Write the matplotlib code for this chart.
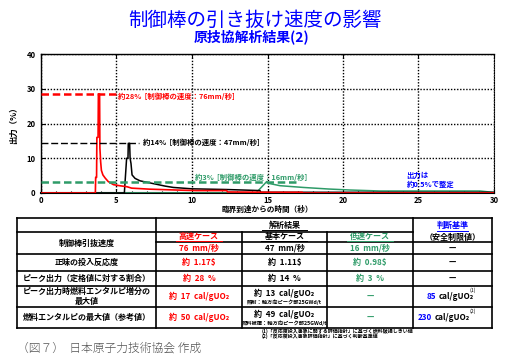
import matplotlib
matplotlib.use('Agg')
import matplotlib.pyplot as plt

plt.rcParams['font.family'] = ['Noto Sans CJK JP', 'DejaVu Sans']

RED = '#ff0000'
GREEN = '#2e9b68'
BLUE = '#0000ff'

# power curves (time after criticality [s], power [% of rated])
t_fast = [0, 3.60, 3.62, 3.68, 3.70, 3.78, 3.80, 3.88, 3.90, 3.95, 4.0, 4.1, 4.25,
          4.45, 4.8, 5.2, 5.7, 6.0, 7.2, 9.0, 10.3, 12.3, 12.35, 15.3, 17.3, 17.35, 30]
p_fast = [0, 0, 4.5, 4.5, 16, 16, 28.5, 28.5, 13, 9, 6.5, 5.2, 4.3,
          3.3, 2.4, 2.1, 1.8, 1.4, 1.1, 0.85, 0.7, 0.7, 0.3, 0.2, 0.2, 0, 0]

t_base = [0, 5.52, 5.67, 5.76, 5.78, 5.87, 5.90, 5.96, 6.03, 6.23, 6.56, 7.0,
          7.66, 8.2, 8.76, 10.0, 12.3, 14.5, 14.55, 30]
p_base = [0, 0, 10, 10, 14.3, 14.3, 10, 8.5, 5.2, 4.2, 3.5, 3.1,
          2.5, 2.0, 1.6, 1.2, 1.0, 0.7, 0.2, 0.2]

t_slow = [0, 14.24, 14.95, 15.05, 15.83, 17.37, 19.03, 20.46, 22.45, 29.07, 29.9, 30]
p_slow = [0, 0, 3.3, 2.8, 2.1, 1.6, 1.15, 0.86, 0.58, 0.58, 0.2, 0.2]

peak_levels = [28.5, 14.3, 3.25]
peak_labels = ['約28%  [制御棒の速度：76mm/秒]',
               '約14%  [制御棒の速度：47mm/秒]',
               '約3%  [制御棒の速度：16mm/秒]']

x_ticks = [0, 5, 10, 15, 20, 25, 30]
y_ticks = [0, 10, 20, 30, 40]

# table contents
col_heads = ['高速ケース', '基本ケース', '低速ケース']
speeds = ['76  mm/秒', '47  mm/秒', '16  mm/秒']
row_labels = ['正味の投入反応度', 'ピーク出力（定格値に対する割合）',
              'ピーク出力時燃料エンタルピ増分の\n最大値', '燃料エンタルピの最大値（参考値）']
reactivity = ['約  1.17$', '約  1.11$', '約  0.98$']
peak_power = ['約  28  %', '約  14  %', '約  3  %']
enthalpy_inc = ['約  17  cal/gUO₂', '約  13  cal/gUO₂', '—']
enthalpy_max = ['約  50  cal/gUO₂', '約  49  cal/gUO₂', '—']
limit_vals = ['85', '230']

fig = plt.figure(figsize=(5.10, 3.61), dpi=100)
ax = fig.add_axes([41 / 510, 1 - 193 / 361, 453 / 510, 139 / 361])

ax.plot(t_slow, p_slow, color=GREEN, lw=1.1, zorder=3)
ax.plot(t_base, p_base, color='black', lw=1.1, zorder=4)
ax.plot(t_fast, p_fast, color=RED, lw=1.2, zorder=5)

# peak reference lines
ax.plot([0, 5.0], [peak_levels[0]] * 2, color=RED, lw=1.8, ls=(0, (3, 1.5)), zorder=6)
ax.text(5.1, peak_levels[0] - 0.6, peak_labels[0], color=RED, fontsize=5.3,
        fontweight='bold', va='center')
ax.plot([0, 6.5], [peak_levels[1]] * 2, color='black', lw=1.0, ls=(0, (5, 2)), zorder=6)
ax.text(6.75, peak_levels[1] + 0.2, peak_labels[1], color='black', fontsize=5.3,
        fontweight='bold', va='center')
ax.plot([0, 16.9], [peak_levels[2]] * 2, color=GREEN, lw=1.8, ls=(0, (3, 1.5)), zorder=6)
ax.text(10.2, peak_levels[2] + 1.4, peak_labels[2], color=GREEN, fontsize=5.3,
        fontweight='bold', va='center')
ax.text(24.2, 3.8, '出力は\n約0.5%で整定', color=BLUE, fontsize=5.3,
        fontweight='bold', va='center', linespacing=1.3)

ax.set_xlim(0, 30)
ax.set_ylim(0, 40)
ax.set_xticks(x_ticks)
ax.set_yticks(y_ticks)
ax.set_xticks(range(0, 31), minor=True)
ax.set_xticklabels([str(v) for v in x_ticks], fontsize=5.5, fontweight='bold')
ax.set_yticklabels([str(v) for v in y_ticks], fontsize=5.5, fontweight='bold')
ax.tick_params(axis='both', which='both', direction='in', top=True, length=3, width=0.8)
ax.tick_params(axis='x', which='major', pad=2)
ax.tick_params(axis='y', which='major', pad=4)
ax.tick_params(axis='x', which='minor', length=1.5, top=False)
ax.grid(True, which='major', color='black', ls=(0, (1, 1.2)), lw=1.0)
ax.set_axisbelow(True)
for s in ['left', 'top', 'bottom']:
    ax.spines[s].set_linewidth(1.0)
ax.spines['bottom'].set_linewidth(1.5)
ax.spines['right'].set_linestyle((0, (1, 1.2)))
ax.set_xlabel('臨界到達からの時間（秒）', fontsize=5.5, fontweight='bold', labelpad=0)
ax.set_ylabel('出力（%）', fontsize=6, fontweight='bold', labelpad=6)

fig.text(0.5, 1 - 20 / 361, '制御棒の引き抜け速度の影響', color=BLUE, fontsize=14,
         ha='center', va='center')
fig.text(0.493, 1 - 37 / 361, '原技協解析結果(2)', color=BLUE, fontsize=10,
         fontweight='bold', ha='center', va='center')

# table overlay in pixel coordinates
tb = fig.add_axes([0, 0, 1, 1])
tb.set_xlim(0, 510)
tb.set_ylim(361, 0)
tb.axis('off')
tb.patch.set_alpha(0)

xs = [17, 156, 242, 327, 413, 492]
lw = 1.2
for y in [218, 254, 271, 286, 307, 328]:
    tb.plot([xs[0], xs[-1]], [y, y], color='black', lw=lw)
tb.plot([xs[0], xs[4]], [232, 232], color='black', lw=lw)
tb.plot([xs[1], xs[-1]], [242, 242], color='black', lw=lw)
for x in [xs[0], xs[1], xs[4], xs[5]]:
    tb.plot([x, x], [218, 328], color='black', lw=lw)
for x in [xs[2], xs[3]]:
    tb.plot([x, x], [232, 328], color='black', lw=lw)

cx = [(xs[i] + xs[i + 1]) / 2 for i in range(5)]
kw = dict(ha='center', va='center', fontsize=5.8, fontweight='bold')

tb.text((xs[1] + xs[4]) / 2, 225, '解析結果', color='black', **kw)
tb.plot([262, 307], [230, 230], color='black', lw=0.7)
tb.text(cx[4], 225, '判断基準', color=BLUE, **kw)
tb.plot([437, 468], [230.5, 230.5], color=BLUE, lw=0.7)
tb.text(cx[4], 237, '（安全制限値）', color='black', **kw)
tb.text(cx[0], 243, '制御棒引抜速度', color='black', **kw)

case_colors = [RED, 'black', GREEN]
for i in range(3):
    tb.text(cx[i + 1], 236.5, col_heads[i], color=case_colors[i], **kw)
    tb.plot([cx[i + 1] - 23, cx[i + 1] + 23], [241.3, 241.3], color=case_colors[i], lw=0.7)
    tb.text(cx[i + 1], 248, speeds[i], color=case_colors[i], **kw)
    tb.text(cx[i + 1], 262.5, reactivity[i], color=case_colors[i], **kw)
    tb.text(cx[i + 1], 278.5, peak_power[i], color=case_colors[i], **kw)

tb.text(cx[1], 296.5, enthalpy_inc[0], color=RED, **kw)
tb.text(cx[1], 317.5, enthalpy_max[0], color=RED, **kw)
tb.text(cx[2], 293, enthalpy_inc[1], color='black', **kw)
tb.text(cx[2], 302, '照射：軸方向ピーク部25GWd/t', color='black', ha='center', va='center',
        fontsize=3.8, fontweight='bold')
tb.text(cx[2], 314, enthalpy_max[1], color='black', **kw)
tb.text(cx[2], 323, '燃料被覆：軸方向ピーク部25GWd/t', color='black', ha='center', va='center',
        fontsize=3.8, fontweight='bold')
tb.text(cx[3], 296.5, enthalpy_inc[2], color=GREEN, **kw)
tb.text(cx[3], 317.5, enthalpy_max[2], color=GREEN, **kw)

for y in [248, 262.5, 278.5]:
    tb.text(cx[4], y, '—', color='black', **kw)

tb.text(cx[0], 262.5, row_labels[0], color='black', **kw)
tb.text(cx[0], 278.5, row_labels[1], color='black', **kw)
tb.text(cx[0], 296.5, row_labels[2], color='black', linespacing=1.2, **kw)
tb.text(cx[0], 317.5, row_labels[3], color='black', **kw)

tb.text(427, 296.5, limit_vals[0], color=BLUE, ha='left', va='center', fontsize=5.8, fontweight='bold')
tb.text(439, 296.5, 'cal/gUO₂', color='black', ha='left', va='center', fontsize=5.8, fontweight='bold')
tb.text(470, 290, '(1)', color='black', ha='left', va='center', fontsize=3.8)
tb.text(418, 317.5, limit_vals[1], color=BLUE, ha='left', va='center', fontsize=5.8, fontweight='bold')
tb.text(435, 317.5, 'cal/gUO₂', color='black', ha='left', va='center', fontsize=5.8, fontweight='bold')
tb.text(470, 311, '(2)', color='black', ha='left', va='center', fontsize=3.8)

tb.text(262, 331.5, '(1)「反応度投入事象に関する評価指針」に基づく燃料破損しきい値',
        color='black', ha='left', va='center', fontsize=3.6, fontweight='bold')
tb.text(262, 336.5, '(2)「反応度投入事象評価指針」に基づく判断基準値',
        color='black', ha='left', va='center', fontsize=3.6, fontweight='bold')

tb.text(17, 348, '（図７）  日本原子力技術協会 作成', color='#555555', ha='left', va='center',
        fontsize=8.5, fontweight='light')

fig.savefig('out.png', dpi=100)
